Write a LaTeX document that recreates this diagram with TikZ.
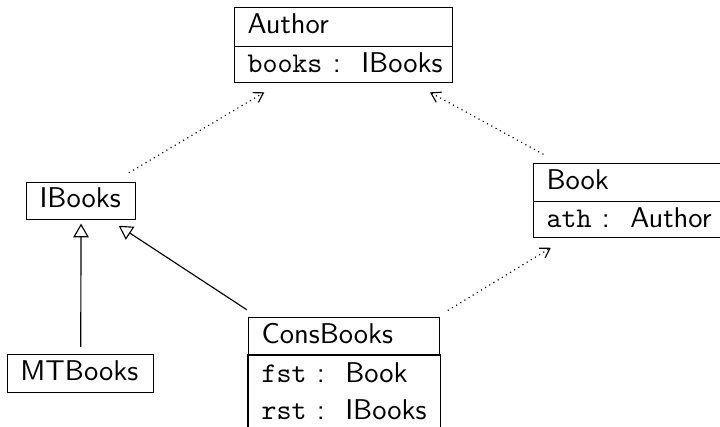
\documentclass[tikz,border=0pt]{standalone}
\usetikzlibrary{arrows.meta,fit}
\begin{document}
\begin{tikzpicture}[
  cls/.style={draw, line width=0.45pt, anchor=north west, inner xsep=4.5pt,
    inner ysep=0pt, text height=7pt, text depth=2.4pt, align=left, font=\sffamily},
  attr/.style={cls, text height=7.6pt, text depth=2pt},
  rowcell/.style={attr, draw=none},
  whole/.style={inner sep=0pt, draw=none},
  attrbox/.style={inner sep=0pt, draw, line width=0.45pt},
  dep/.style={line width=0.4pt, dash pattern=on 0.4pt off 1.3pt,
    -{Straight Barb[length=3.2pt,width=4pt]}},
  inh/.style={line width=0.4pt, -{Triangle[open,length=4.8pt,width=5.4pt]}}
]
\useasboundingbox (0,0) rectangle (252pt,-149.45pt);

% Author
\node[cls, text width=67.3pt, minimum height=13.65pt] (authorH) at (81.9pt,-2.45pt) {Author};
\node[attr, text width=67.3pt, minimum height=12.6pt] (authorA) at (81.9pt,-16.1pt)
  {\texttt{books}\kern3.6pt:\kern7.2pt IBooks};
\node[whole, fit=(authorH)(authorA)] (author) {};

% IBooks
\node[cls, text width=29.15pt, minimum height=12.95pt] (ibooks) at (9.1pt,-63.7pt) {IBooks};

% MTBooks
\node[cls, text width=42.1pt, minimum height=13.3pt] (mtbooks) at (2.45pt,-123.9pt) {MTBooks};

% Book
\node[cls, text width=57.15pt, minimum height=13.3pt] (bookH) at (186.55pt,-57.05pt) {Book};
\node[attr, text width=57.15pt, minimum height=12.6pt] (bookA) at (186.55pt,-70.35pt)
  {\texttt{ath}\kern3.6pt:\kern7.2pt Author};
\node[whole, fit=(bookH)(bookA)] (book) {};

% ConsBooks
\node[cls, text width=57.85pt, minimum height=13.3pt] (consH) at (86.8pt,-110.95pt) {ConsBooks};
\node[rowcell, text width=57.85pt, minimum height=12.95pt] (consF) at (86.8pt,-124.25pt)
  {\texttt{fst}\kern3.6pt:\kern7.2pt Book};
\node[rowcell, text width=57.85pt, minimum height=12.95pt] (consR) at (86.8pt,-137.2pt)
  {\texttt{rst}\kern3.6pt:\kern7.2pt IBooks};
\node[attrbox, fit=(consF)(consR)] (consA) {};
\node[whole, fit=(consH)(consF)(consR)] (cons) {};

% dependencies
\draw[dep, shorten <=6.3pt, shorten >=5.8pt] (ibooks) -- (author);
\draw[dep, shorten <=5.9pt, shorten >=6.2pt] (book) -- (author);
\draw[dep, shorten <=4pt, shorten >=6pt] (cons) -- (book);

% generalisations
\draw[inh, shorten <=2.45pt, shorten >=1.15pt] (mtbooks) -- (ibooks);
\draw[inh, shorten <=4.3pt, shorten >=3.5pt] (cons) -- (ibooks);
\end{tikzpicture}
\end{document}
